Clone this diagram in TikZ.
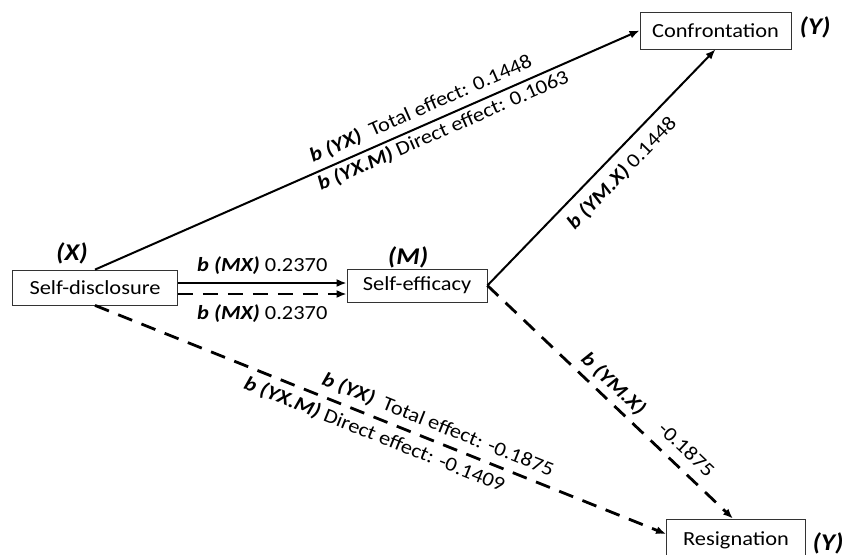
\documentclass[tikz,border=0pt]{standalone}
\usepackage{fontspec}
\setmainfont{Carlito}[FakeStretch=1.12]
\usetikzlibrary{arrows.meta}
\begin{document}
\begin{tikzpicture}[x=1pt,y=-1pt,
  box/.style={draw=black!80, line width=0.8pt, inner sep=0pt, font=\fontsize{20}{24}\selectfont},
  conn/.style={line width=2pt, -{Latex[length=10pt,width=8pt]}},
  dsh/.style={line width=2.8pt, dash pattern=on 15pt off 10pt},
  lab/.style={font=\fontsize{20}{24}\selectfont, sloped, inner sep=5pt},
  var/.style={font=\fontsize{24}{28}\selectfont\bfseries\itshape}]
\useasboundingbox (0,0) rectangle (845,554);
\node[box, minimum width=165pt, minimum height=35pt] (sd) at (95,287.5) {Self-disclosure};
\node[box, minimum width=140pt, minimum height=33pt] (se) at (417,285.5) {Self-efficacy};
\node[box, minimum width=151pt, minimum height=37pt] (conf) at (715.5,30.5) {Confrontation};
\node[box, minimum width=139pt, minimum height=42pt] (res) at (736,540) {Resignation};
\node[var] (vx) at (72,253) {(X)};
\node[var] (vm) at (408,257) {(M)};
\node[var] (vy1) at (815,27) {(Y)};
\node[var] (vy2) at (828,543) {(Y)};
% X -> Confrontation
\draw[conn] (sd.north) -- (conf.west)
  node[lab, above, pos=0.61, inner sep=6pt] {\textbf{\textit{b (YX)}}\ \ Total effect: 0.1448}
  node[lab, below, pos=0.63, inner sep=3pt] {\textbf{\textit{b (YX.M)}} Direct effect: 0.1063};
% X -> M
\draw[conn] (sd.east |- 0,283) -- (se.west |- 0,283)
  node[lab, above, midway, inner sep=8pt] {\textbf{\textit{b (MX)}} 0.2370};
\draw[conn, dsh] (sd.east |- 0,294) -- (se.west |- 0,294)
  node[lab, below, midway, inner sep=9pt] {\textbf{\textit{b (MX)}} 0.2370};
% M -> Confrontation
\draw[conn] (se.east) -- (conf.south)
  node[lab, below, pos=0.53, inner sep=9pt] {\textbf{\textit{b (YM.X)}} 0.1448};
% M -> Resignation
\draw[conn, dsh] (se.east) -- ([xshift=-3pt]res.north)
  node[lab, above, pos=0.47, inner sep=5pt] {\textbf{\textit{b (YM.X)}}}
  node[lab, above, pos=0.76, inner sep=10pt] {-0.1875};
% X -> Resignation
\draw[conn, dsh] (sd.south) -- ([yshift=6pt]res.west)
  node[lab, above, pos=0.59, inner sep=6pt] {\textbf{\textit{b (YX)}}\ \ Total effect: -0.1875}
  node[lab, below, pos=0.50, inner sep=6pt] {\textbf{\textit{b (YX.M)}} Direct effect: -0.1409};
\end{tikzpicture}
\end{document}
